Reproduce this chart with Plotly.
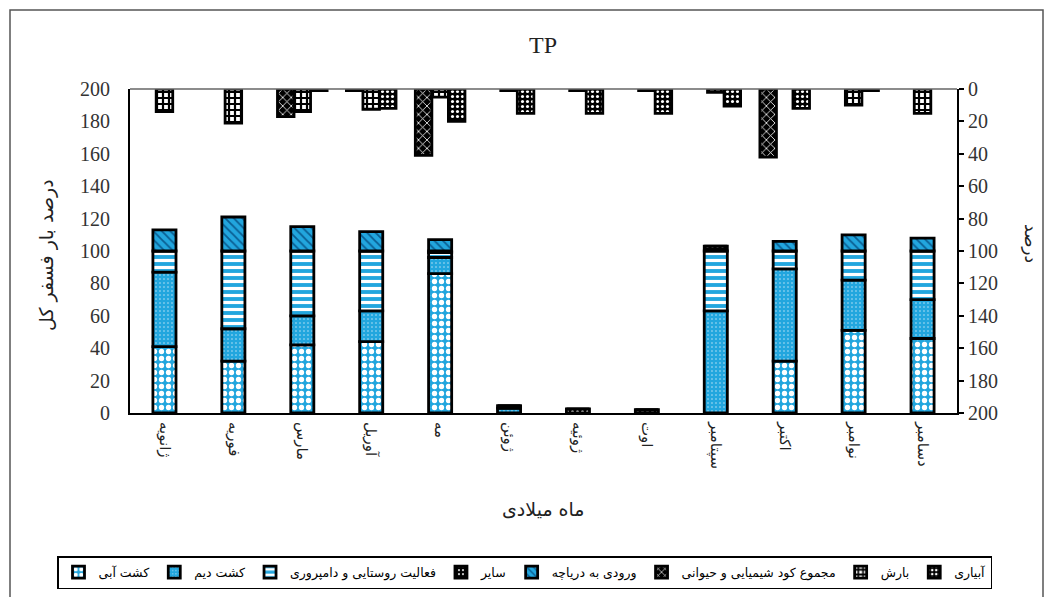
import plotly.graph_objects as go

months = ["ژانویه", "فوریه", "مارس", "آوریل", "مه", "ژوئن", "ژوئیه", "اوت",
          "سپتامبر", "اکتبر", "نوامبر", "دسامبر"]

# bottom stacked bars (left axis, %)
kesht_abi = [41, 32, 42, 44, 86, 0, 0, 0, 0, 32, 51, 46]
kesht_deym = [46, 20, 18, 19, 10, 3, 0, 0, 63, 57, 31, 24]
faaliat = [13, 48, 40, 37, 3, 0, 0, 0, 37, 11, 18, 30]
sayer = [0, 0, 0, 0, 1, 1.5, 2.5, 2, 3, 0, 0, 0]
vorudi = [13, 21, 15, 12, 7, 0, 0, 0, 0, 6, 10, 8]

# top bars (right axis, reversed, %)
kud = [None, None, 17, 1, 41, None, None, None, None, 42, None, None]
barsh = [14, 21, 14, 12.5, 5, 1, 1, 1, 2, None, 10, 15]
abyari = [None, None, 1, 12, 20, 15, 15, 15, 10.5, 12, 1, None]

names = {
    "abi": "کشت آبی", "deym": "کشت دیم", "faaliat": "فعالیت روستایی و دامپروری",
    "sayer": "سایر", "vorudi": "ورودی به دریاچه", "kud": "مجموع کود شیمیایی و حیوانی",
    "barsh": "بارش", "abyari": "آبیاری",
}

BLUE = "#22a6de"
FA = "DejaVu Sans"
SERIF = "Liberation Serif"

# page body has an 8px margin; the figure is sized to fill the rest of the window
OFF = 8
W, H = 1053 - OFF, 597 - OFF
# plot area in window pixels
PL, PR, PT, PB = 130, 957, 89, 413

x = list(range(12))
fig = go.Figure()

def cum(*series):
    return [sum(s[i] for s in series) for i in range(12)]

bw = 0.335
bottom = [
    ("abi", kesht_abi, dict(shape=".", bgcolor=BLUE, fgcolor="white", size=7, solidity=0.45, fillmode="replace")),
    ("deym", kesht_deym, dict(shape=".", bgcolor=BLUE, fgcolor="#bfe6f7", size=4, solidity=0.12, fillmode="replace")),
    ("faaliat", faaliat, dict(shape="-", bgcolor=BLUE, fgcolor="white", size=7, solidity=0.45, fillmode="replace")),
    ("sayer", sayer, dict(shape=".", bgcolor="black", fgcolor="white", size=5, solidity=0.2, fillmode="replace")),
    ("vorudi", vorudi, dict(shape="\\", bgcolor=BLUE, fgcolor="#0a5e92", size=6, solidity=0.3, fillmode="replace")),
]
done = []
for key, vals, pat in bottom:
    base = cum(*done) if done else [0] * 12
    fig.add_trace(go.Bar(
        x=x, y=vals, base=base, name=names[key], width=bw, offset=-bw / 2,
        marker=dict(color=BLUE, line=dict(color="black", width=2.8), pattern=pat),
        yaxis="y",
    ))
    done.append(vals)

tw = 0.24
top = [
    ("kud", kud, -tw, dict(shape="x", bgcolor="black", fgcolor="white", size=6, solidity=0.25, fillmode="replace")),
    ("barsh", barsh, 0.0, dict(shape="+", bgcolor="white", fgcolor="black", size=6, solidity=0.6, fillmode="replace")),
    ("abyari", abyari, tw, dict(shape=".", bgcolor="black", fgcolor="white", size=5, solidity=0.3, fillmode="replace")),
]
for key, vals, center, pat in top:
    fig.add_trace(go.Bar(
        x=x, y=vals, name=names[key], width=tw, offset=center - tw / 2,
        marker=dict(color="black", line=dict(color="black", width=2.8), pattern=pat),
        yaxis="y2",
    ))

def px_x(p):
    return (p - PL) / (PR - PL)

def px_y(p):
    return (PB - p) / (PB - PT)

fig.update_layout(
    width=W, height=H,
    margin=dict(l=PL - OFF, r=W - (PR - OFF), t=PT - OFF, b=H - (PB - OFF), autoexpand=False),
    paper_bgcolor="white", plot_bgcolor="white",
    barmode="overlay",
    showlegend=True,
    xaxis=dict(
        range=[-0.5, 11.5], tickvals=x, ticktext=months, tickangle=90,
        tickfont=dict(family=FA, size=15, color="#222"),
        showline=True, linecolor="black", linewidth=2, ticks="", showgrid=False,
        zeroline=False, automargin=False, ticklabelstandoff=4,
    ),
    yaxis=dict(
        range=[0, 200], dtick=20, showgrid=False, zeroline=False,
        showline=True, linecolor="black", linewidth=2, ticks="", automargin=False,
        tickfont=dict(family=SERIF, size=20, color="#333"), ticklabelstandoff=14,
    ),
    yaxis2=dict(
        range=[200, 0], dtick=20, overlaying="y", side="right", anchor="x",
        showgrid=False, zeroline=False, showline=True, linecolor="black", linewidth=2,
        ticks="outside", ticklen=5, tickwidth=2, tickcolor="black", automargin=False,
        tickfont=dict(family=SERIF, size=20, color="#333"),
    ),
    legend=dict(
        orientation="h", xref="paper", yref="paper",
        x=px_x(57), xanchor="left", y=px_y(556), yanchor="top",
        bordercolor="black", borderwidth=1.5, bgcolor="white",
        font=dict(family=FA, size=12.5, color="black"), traceorder="normal",
        itemwidth=30, tracegroupgap=0,
    ),
    shapes=[
        dict(type="rect", xref="paper", yref="paper",
             x0=px_x(10), x1=px_x(1043), y0=px_y(610), y1=px_y(10),
             line=dict(color="#555", width=1.5), fillcolor="rgba(0,0,0,0)", layer="below"),
        dict(type="line", xref="paper", yref="paper", x0=0, x1=1, y0=1, y1=1,
             line=dict(color="#666", width=1.5)),
    ],
    annotations=[
        dict(text="TP", xref="paper", yref="paper", x=px_x(543), y=px_y(45),
             xanchor="center", yanchor="middle",
             showarrow=False, font=dict(family=SERIF, size=24, color="#222")),
        dict(text="ماه میلادی", xref="paper", yref="paper", x=px_x(543), y=px_y(509),
             xanchor="center", yanchor="middle",
             showarrow=False, font=dict(family=FA, size=19, color="#222")),
        dict(text="درصد بار فسفر کل", xref="paper", yref="paper", x=px_x(46), y=px_y(255),
             xanchor="center", yanchor="middle",
             showarrow=False, textangle=-90, font=dict(family=FA, size=19, color="#222")),
        dict(text="درصد", xref="paper", yref="paper", x=px_x(1031), y=px_y(243),
             xanchor="center", yanchor="middle",
             showarrow=False, textangle=90, font=dict(family=FA, size=17, color="#222")),
    ],
)

fig.write_html("out.html")
